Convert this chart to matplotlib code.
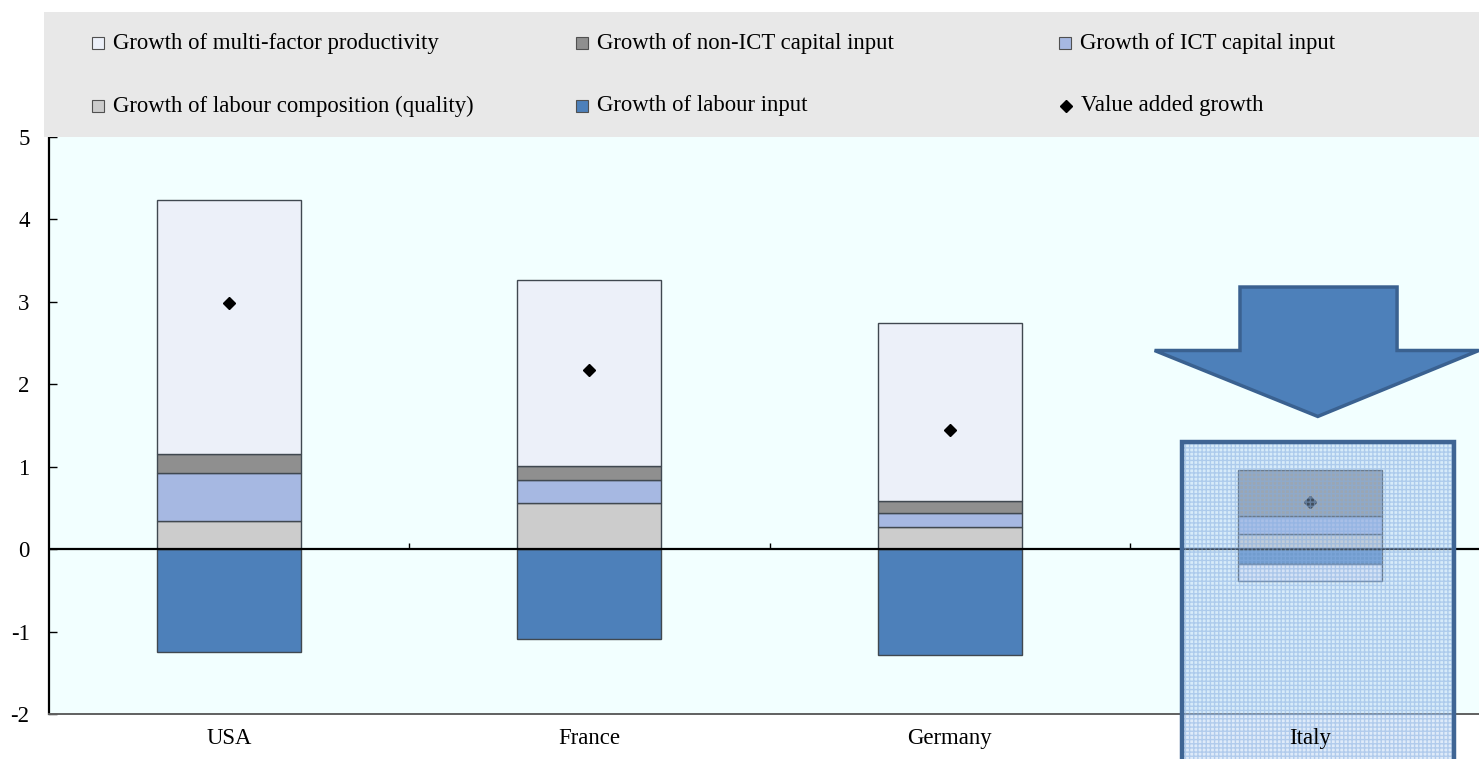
import numpy as np
import matplotlib
matplotlib.use("Agg")
import matplotlib.pyplot as plt
from matplotlib.patches import Rectangle, Polygon

plt.rcParams["font.family"] = ["Liberation Serif", "DejaVu Serif"]

countries = ["USA", "France", "Germany", "Italy"]
labour_input = [-1.25, -1.09, -1.28, -0.18]
labour_comp = [0.34, 0.56, 0.27, 0.18]
ict_capital = [0.58, 0.28, 0.17, 0.22]
non_ict_capital = [0.24, 0.17, 0.14, 0.56]
mfp = [3.08, 2.26, 2.16, -0.21]
value_added = [2.99, 2.17, 1.44, 0.57]

C_MFP = "#ECF0F9"
C_NONICT = "#8F8F8F"
C_ICT = "#A6B8E2"
C_COMP = "#CCCCCC"
C_LAB = "#4D80BA"
EDGE = "#404850"
FS = 16.4

fig = plt.figure(figsize=(14.79, 7.59), dpi=100)
ax = fig.add_axes([49 / 1479, 1 - 714 / 759, (1490 - 49) / 1479, (714 - 137) / 759])
ax.set_facecolor("#F2FFFF")

x = np.arange(len(countries))
w = 0.40

# stack positives upward from zero, negatives downward
pos_base = np.zeros(len(x))
neg_base = np.zeros(len(x))
series = [(labour_input, C_LAB), (labour_comp, C_COMP), (ict_capital, C_ICT),
          (non_ict_capital, C_NONICT), (mfp, C_MFP)]
for vals, col in series:
    vals = np.array(vals)
    base = np.where(vals >= 0, pos_base, neg_base)
    ax.bar(x, vals, w, bottom=base, color=col, edgecolor=EDGE, linewidth=1.0, zorder=2)
    pos_base = pos_base + np.where(vals >= 0, vals, 0)
    neg_base = neg_base + np.where(vals < 0, vals, 0)

ax.plot(x, value_added, linestyle="none", marker="D", markersize=6.5,
        color="black", zorder=4)

ax.axhline(0, color="black", lw=1.6, zorder=3)
ax.vlines(x[:-1] + 0.5, 0, 0.07, color="black", lw=1.0, zorder=3)

ax.set_xlim(-0.5, 3.5)
ax.set_ylim(-2, 5)
ax.set_yticks(range(-2, 6))
ax.set_yticklabels([str(v) for v in range(-2, 6)], fontsize=FS)
ax.tick_params(axis="y", direction="in", length=6, width=1.0, pad=14)
ax.set_xticks(x)
ax.set_xticklabels(countries, fontsize=FS)
ax.tick_params(axis="x", length=0, pad=10)
ax.xaxis.set_zorder(7)
for s in ["top", "right"]:
    ax.spines[s].set_visible(False)
ax.spines["left"].set_linewidth(1.6)
ax.spines["left"].set_color("black")
ax.spines["bottom"].set_color("#606060")
ax.spines["bottom"].set_linewidth(1.4)

# highlight box around Italy
hx0, hx1, hy0, hy1 = 2.644, 3.400, -2.7, 1.30
ax.add_patch(Rectangle((hx0, hy0), hx1 - hx0, hy1 - hy0, facecolor=(0.68, 0.80, 0.94, 0.38),
                       edgecolor=(0.52, 0.68, 0.88, 0.5), hatch="++++", lw=0,
                       clip_on=False, zorder=5))
ax.add_patch(Rectangle((hx0, hy0), hx1 - hx0, hy1 - hy0, fill=False,
                       edgecolor="#3F6594", lw=3.2, clip_on=False, zorder=6))

# down arrow pointing at Italy
arrow = [(2.806, 3.18), (3.242, 3.18), (3.242, 2.41), (3.469, 2.41),
         (3.022, 1.61), (2.569, 2.41), (2.806, 2.41)]
ax.add_patch(Polygon(arrow, closed=True, facecolor="#4D80BA", edgecolor="#3A6190",
                     lw=2.5, clip_on=False, zorder=6))

# legend panel
fig.patches.append(Rectangle((44 / 1479, 1 - 137 / 759), 1 - 44 / 1479, (137 - 12) / 759,
                             transform=fig.transFigure, facecolor="#E8E8E8",
                             edgecolor="none", zorder=0))
legend_items = [
    ("Growth of multi-factor productivity", C_MFP, "s", 98, 43),
    ("Growth of non-ICT capital input", C_NONICT, "s", 582, 43),
    ("Growth of ICT capital input", C_ICT, "s", 1065, 43),
    ("Growth of labour composition (quality)", C_COMP, "s", 98, 106),
    ("Growth of labour input", C_LAB, "s", 582, 106),
    ("Value added growth", "black", "D", 1066, 106),
]
for label, col, mk, px, py in legend_items:
    fx, fy = px / 1479, 1 - py / 759
    if mk == "s":
        fig.add_artist(plt.Line2D([fx], [fy], marker="s", markersize=9, color=col,
                                  markeredgecolor="#505050", markeredgewidth=0.8,
                                  transform=fig.transFigure))
    else:
        fig.add_artist(plt.Line2D([fx], [fy], marker="D", markersize=6, color="black",
                                  transform=fig.transFigure))
    fig.text(fx + 15 / 1479, fy, label, fontsize=FS, va="center", ha="left")

fig.savefig("out.png", dpi=100)
